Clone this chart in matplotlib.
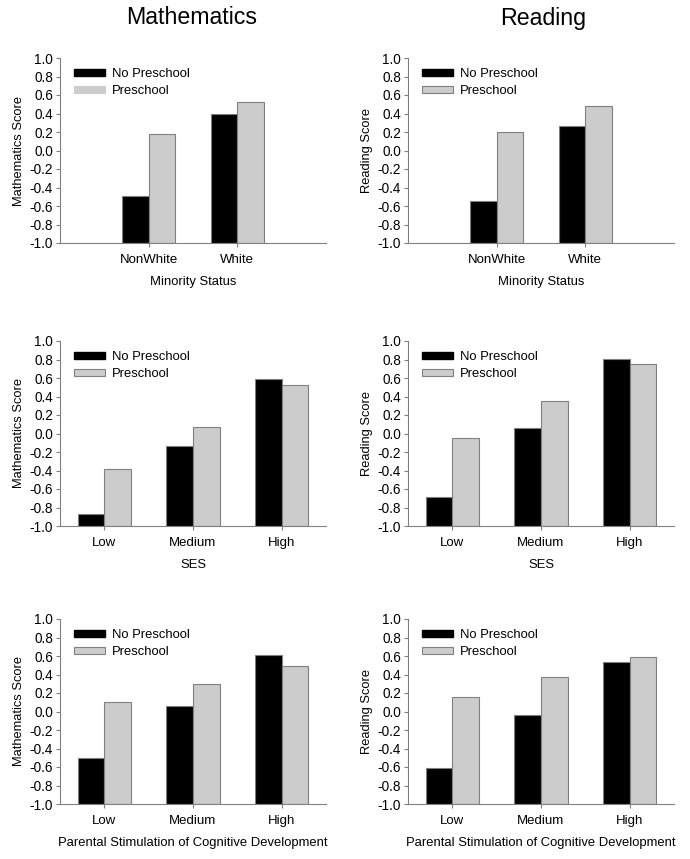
import matplotlib.pyplot as plt
from matplotlib.patches import Patch
import numpy as np

plt.rcParams['font.family'] = ['Liberation Sans', 'DejaVu Sans']

minority_cats = ['NonWhite', 'White']
level_cats = ['Low', 'Medium', 'High']

math_minority_no = [-0.49, 0.40]
math_minority_pre = [0.18, 0.52]
read_minority_no = [-0.55, 0.26]
read_minority_pre = [0.20, 0.48]

math_ses_no = [-0.87, -0.14, 0.59]
math_ses_pre = [-0.38, 0.07, 0.52]
read_ses_no = [-0.69, 0.06, 0.81]
read_ses_pre = [-0.05, 0.35, 0.75]

math_stim_no = [-0.50, 0.06, 0.61]
math_stim_pre = [0.10, 0.30, 0.49]
read_stim_no = [-0.61, -0.04, 0.53]
read_stim_pre = [0.16, 0.37, 0.59]

y_ticks = [-1.0, -0.8, -0.6, -0.4, -0.2, 0.0, 0.2, 0.4, 0.6, 0.8, 1.0]

EDGE = '#808080'
GRAY = '#cccccc'


def drawPanel(ax, cats, noVals, preVals, yLabel, xLabel, offset, legendEdge=True):
    x = np.arange(len(cats)) + offset
    w = 0.3
    ax.bar(x - w / 2, np.array(noVals) + 1.0, width=w, bottom=-1.0,
           color='black', edgecolor=EDGE, linewidth=0.8)
    ax.bar(x + w / 2, np.array(preVals) + 1.0, width=w, bottom=-1.0,
           color=GRAY, edgecolor=EDGE, linewidth=0.8)
    ax.set_ylim(-1.0, 1.0)
    ax.set_yticks(y_ticks)
    ax.set_yticklabels(['%.1f' % v for v in y_ticks])
    if offset == 1:
        ax.set_xlim(0, 3)
    else:
        ax.set_xlim(-0.5, 2.5)
    ax.set_xticks(x)
    ax.set_xticklabels(cats)
    for s in ['top', 'right']:
        ax.spines[s].set_visible(False)
    for s in ['left', 'bottom']:
        ax.spines[s].set_color(EDGE)
        ax.spines[s].set_linewidth(0.8)
    ax.tick_params(axis='both', colors=EDGE, length=3, width=0.8, labelsize=9.8,
                   labelcolor='black', pad=2)
    ax.tick_params(axis='x', labelsize=9.5, pad=5)
    ax.set_ylabel(yLabel, fontsize=9.3, labelpad=3)
    ax.set_xlabel(xLabel, fontsize=9.4, labelpad=7)
    preEdge = EDGE if legendEdge else GRAY
    handles = [Patch(facecolor='black', edgecolor='black', label='No Preschool'),
               Patch(facecolor=GRAY, edgecolor=preEdge, linewidth=0.8, label='Preschool')]
    ax.legend(handles=handles, loc='upper left', bbox_to_anchor=(0.025, 0.99), frameon=False,
              fontsize=9.4, handlelength=2.3, handleheight=0.45, handletextpad=0.6,
              labelspacing=0.4, borderaxespad=0.2)


fig = plt.figure(figsize=(6.9, 8.59), dpi=100)

lefts = [60 / 690, 408 / 690]
bottoms = [1 - 243 / 859, 1 - 526 / 859, 1 - 804 / 859]
w = 266 / 690
h = 185 / 859

ax1 = fig.add_axes([lefts[0], bottoms[0], w, h])
ax2 = fig.add_axes([lefts[1], bottoms[0], w, h])
ax3 = fig.add_axes([lefts[0], bottoms[1], w, h])
ax4 = fig.add_axes([lefts[1], bottoms[1], w, h])
ax5 = fig.add_axes([lefts[0], bottoms[2], w, h])
ax6 = fig.add_axes([lefts[1], bottoms[2], w, h])

drawPanel(ax1, minority_cats, math_minority_no, math_minority_pre, 'Mathematics Score', 'Minority Status', 1, legendEdge=False)
drawPanel(ax2, minority_cats, read_minority_no, read_minority_pre, 'Reading Score', 'Minority Status', 1)
drawPanel(ax3, level_cats, math_ses_no, math_ses_pre, 'Mathematics Score', 'SES', 0)
drawPanel(ax4, level_cats, read_ses_no, read_ses_pre, 'Reading Score', 'SES', 0)
drawPanel(ax5, level_cats, math_stim_no, math_stim_pre, 'Mathematics Score', 'Parental Stimulation of Cognitive Development', 0)
drawPanel(ax6, level_cats, read_stim_no, read_stim_pre, 'Reading Score', 'Parental Stimulation of Cognitive Development', 0)

fig.text(192 / 690, 1 - 18 / 859, 'Mathematics', ha='center', va='center', fontsize=16.7)
fig.text(543 / 690, 1 - 18 / 859, 'Reading', ha='center', va='center', fontsize=16.7)

fig.savefig('out.png', dpi=100)
